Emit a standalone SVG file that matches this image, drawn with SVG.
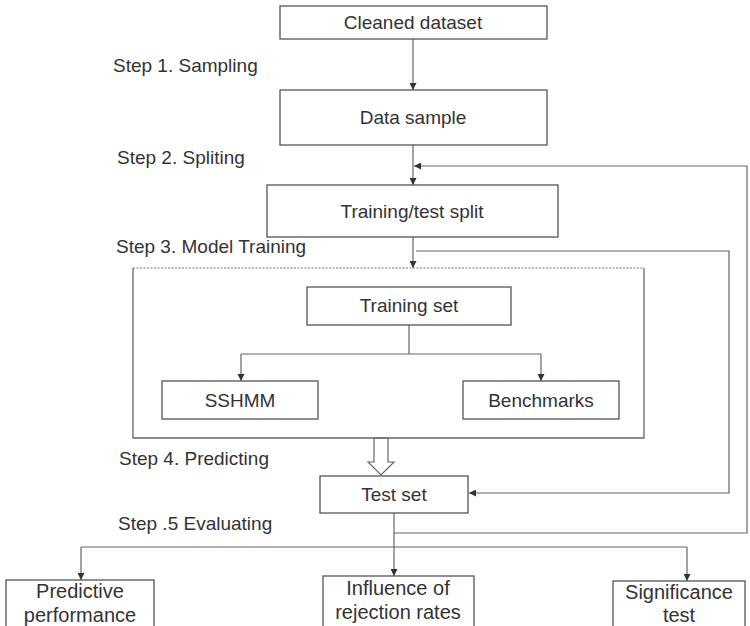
<svg xmlns="http://www.w3.org/2000/svg" width="750" height="626" viewBox="0 0 750 626">
<defs>
<style>
.box{fill:#fff;stroke:#555;stroke-width:1.3}
.ln{fill:none;stroke:#666;stroke-width:1.2}
.t{font-family:"Liberation Sans",Arial,sans-serif;font-size:19px;fill:#333}
.b{font-size:20px}
.c{text-anchor:middle}
</style>
<marker id="ah" viewBox="0 0 10 10" refX="10" refY="5" markerWidth="7" markerHeight="7" markerUnits="userSpaceOnUse" orient="auto">
<path d="M0,0 L10,5 L0,10 z" fill="#333"/>
</marker>
</defs>
<rect width="750" height="626" fill="#fff"/>

<g id="step-labels">
<text class="t" x="113" y="72">Step 1. Sampling</text>
<text class="t" x="117" y="164">Step 2. Spliting</text>
<text class="t" x="116" y="253">Step 3. Model Training</text>
<text class="t" x="119" y="465">Step 4. Predicting</text>
<text class="t" x="118" y="530">Step .5 Evaluating</text>
</g>

<g id="connectors">
<path class="ln" d="M413,39 V90" marker-end="url(#ah)"/>
<path class="ln" d="M413,145 V185" marker-end="url(#ah)"/>
<path class="ln" d="M413,237 V268" marker-end="url(#ah)"/>
<path class="ln" d="M394,533 H747 V166 H414" marker-end="url(#ah)"/>
<path class="ln" d="M416,251 H729 V493 H469" marker-end="url(#ah)"/>
<path class="ln" d="M409,325 V354"/>
<path class="ln" d="M241,354 H541"/>
<path class="ln" d="M241,354 V381" marker-end="url(#ah)"/>
<path class="ln" d="M541,354 V381" marker-end="url(#ah)"/>
<path class="ln" d="M394,513 V576" marker-end="url(#ah)"/>
<path class="ln" d="M81,547 H687"/>
<path class="ln" d="M81,547 V580" marker-end="url(#ah)"/>
<path class="ln" d="M687,547 V581" marker-end="url(#ah)"/>
<polygon points="374,438 388,438 388,462 394,462 381,475 368,462 374,462" fill="#fff" stroke="#666" stroke-width="1.2"/>
</g>

<g id="model-training-frame">
<path d="M133,268 H644" fill="none" stroke="#777" stroke-width="1.2" stroke-dasharray="2,1.5"/>
<path d="M644,268 V438 H133 V268" fill="none" stroke="#666" stroke-width="1.3"/>
</g>

<g id="cleaned-dataset">
<rect class="box" x="280" y="6" width="267" height="33"/>
<text class="t c" x="413" y="29">Cleaned dataset</text>
</g>
<g id="data-sample">
<rect class="box" x="280" y="90" width="267" height="55"/>
<text class="t c" x="413" y="124">Data sample</text>
</g>
<g id="training-test-split">
<rect class="box" x="267" y="185" width="291" height="52"/>
<text class="t c" x="412" y="218">Training/test split</text>
</g>
<g id="training-set">
<rect class="box" x="307" y="287" width="204" height="38"/>
<text class="t c" x="409" y="312">Training set</text>
</g>
<g id="sshmm">
<rect class="box" x="162" y="381" width="156" height="38"/>
<text class="t c" x="240" y="407">SSHMM</text>
</g>
<g id="benchmarks">
<rect class="box" x="463" y="381" width="156" height="38"/>
<text class="t c" x="541" y="407">Benchmarks</text>
</g>
<g id="test-set">
<rect class="box" x="320" y="476" width="148" height="37"/>
<text class="t c" x="394" y="501">Test set</text>
</g>
<g id="predictive-performance">
<rect class="box" x="6" y="580" width="148" height="50"/>
<text class="t b c" x="80" y="598">Predictive</text>
<text class="t b c" x="80" y="622">performance</text>
</g>
<g id="influence-rejection">
<rect class="box" x="323" y="576" width="151" height="54"/>
<text class="t b c" x="398" y="595">Influence of</text>
<text class="t b c" x="398" y="619">rejection rates</text>
</g>
<g id="significance-test">
<rect class="box" x="613" y="581" width="132" height="49"/>
<text class="t b c" x="679" y="599">Significance</text>
<text class="t b c" x="679" y="622">test</text>
</g>
</svg>
